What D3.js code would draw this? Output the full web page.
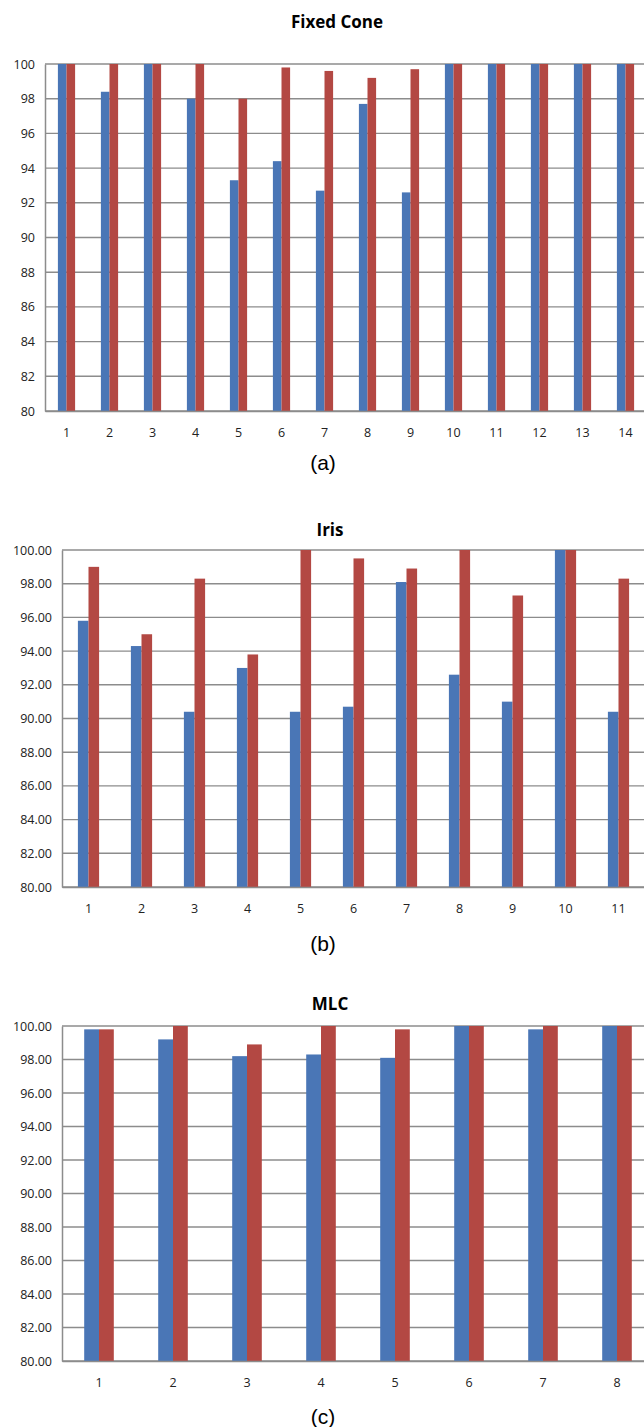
<!DOCTYPE html>
<html>
<head>
<meta charset="utf-8">
<script src="https://d3js.org/d3.v7.min.js"></script>
<style>
    body { margin: 0; background: #fff; }
    .tick text { font-family: "Open Sans", "Noto Sans", sans-serif; fill: #222; }
    .title { font-family: "Open Sans", "Noto Sans", sans-serif; font-weight: bold; font-size: 17px; }
    .sublabel { font-family: "Liberation Sans", Arial, sans-serif; font-size: 21px; }
</style>
</head>
<body>
<div class="chart"></div>
<script>

// Data for the three panels

var coneCategories = ["1", "2", "3", "4", "5", "6", "7", "8", "9", "10", "11", "12", "13", "14"];
var coneBlue = [100, 98.4, 100, 98.0, 93.3, 94.4, 92.7, 97.7, 92.6, 100, 100, 100, 100, 100];
var coneRed = [100, 100, 100, 100, 98.0, 99.8, 99.6, 99.2, 99.7, 100, 100, 100, 100, 100];

var irisCategories = ["1", "2", "3", "4", "5", "6", "7", "8", "9", "10", "11"];
var irisBlue = [95.8, 94.3, 90.4, 93.0, 90.4, 90.7, 98.1, 92.6, 91.0, 100, 90.4];
var irisRed = [99.0, 95.0, 98.3, 93.8, 100, 99.5, 98.9, 100, 97.3, 100, 98.3];

var mlcCategories = ["1", "2", "3", "4", "5", "6", "7", "8"];
var mlcBlue = [99.8, 99.2, 98.2, 98.3, 98.1, 100, 99.8, 100];
var mlcRed = [99.8, 100, 98.9, 100, 99.8, 100, 100, 100];

var yTicks = [80, 82, 84, 86, 88, 90, 92, 94, 96, 98, 100];

var svgWidth = 644;
var svgHeight = 1427;

var svg = d3.select(".chart")
    .append("svg")
    .attr("width", svgWidth)
    .attr("height", svgHeight);

// Draw one panel
function drawPanel(opts, categories, blue, red) {

    var chart = svg.append("g");

    var xScale = d3.scaleBand()
        .domain(categories)
        .range([opts.left, opts.left + opts.band * categories.length]);

    var yScale = d3.scaleLinear()
        .domain([80, 100])
        .range([opts.bottom, opts.top]);

    var barW = xScale.bandwidth() * 0.2;

    // gridlines
    chart.append("g")
        .selectAll("line")
        .data(yTicks)
        .enter()
        .append("line")
        .attr("x1", opts.left)
        .attr("x2", svgWidth)
        .attr("y1", function(d) { return yScale(d); })
        .attr("y2", function(d) { return yScale(d); })
        .attr("stroke", "#8c8c8c")
        .attr("stroke-width", 1.4);

    // bars
    chart.append("g")
        .selectAll("rect")
        .data(blue)
        .enter()
        .append("rect")
        .attr("x", function(d, i) { return xScale(categories[i]) + xScale.bandwidth() / 2 - barW; })
        .attr("y", function(d) { return yScale(d); })
        .attr("width", barW)
        .attr("height", function(d) { return yScale(80) - yScale(d); })
        .attr("fill", "#4a76b6");

    chart.append("g")
        .selectAll("rect")
        .data(red)
        .enter()
        .append("rect")
        .attr("x", function(d, i) { return xScale(categories[i]) + xScale.bandwidth() / 2; })
        .attr("y", function(d) { return yScale(d); })
        .attr("width", barW)
        .attr("height", function(d) { return yScale(80) - yScale(d); })
        .attr("fill", "#b34843");

    // axes
    var leftAxis = d3.axisLeft(yScale)
        .tickValues(yTicks)
        .tickSize(0)
        .tickPadding(opts.yPad)
        .tickFormat(opts.fmt);

    var bottomAxis = d3.axisBottom(xScale)
        .tickSize(0)
        .tickPadding(17);

    var yAxis = chart.append("g")
        .attr("transform", "translate(" + opts.left + ",0)")
        .call(leftAxis);

    var xAxis = chart.append("g")
        .attr("transform", "translate(0," + opts.bottom + ")")
        .call(bottomAxis);

    yAxis.selectAll(".tick text").attr("font-size", "12.5px");
    xAxis.selectAll(".tick text").attr("font-size", "12.5px");
    yAxis.select(".domain").attr("stroke", "#8c8c8c").attr("stroke-width", 1.5);
    xAxis.select(".domain").attr("stroke", "#8c8c8c").attr("stroke-width", 1.5);

    // title and panel label
    chart.append("text")
        .attr("class", "title")
        .attr("x", opts.titleX)
        .attr("y", opts.titleY)
        .attr("text-anchor", "middle")
        .text(opts.title);

    chart.append("text")
        .attr("class", "sublabel")
        .attr("x", 323)
        .attr("y", opts.subY)
        .attr("text-anchor", "middle")
        .text(opts.sub);
}

drawPanel({ left: 45, band: 43, top: 64, bottom: 411, yPad: 10, fmt: d3.format("d"),
    title: "Fixed Cone", titleX: 337, titleY: 28, sub: "(a)", subY: 470 },
    coneCategories, coneBlue, coneRed);

drawPanel({ left: 62, band: 53, top: 550, bottom: 887, yPad: 10, fmt: d3.format(".2f"),
    title: "Iris", titleX: 330, titleY: 536, sub: "(b)", subY: 951 },
    irisCategories, irisBlue, irisRed);

drawPanel({ left: 62, band: 74, top: 1026, bottom: 1361, yPad: 10, fmt: d3.format(".2f"),
    title: "MLC", titleX: 330, titleY: 1010, sub: "(c)", subY: 1424 },
    mlcCategories, mlcBlue, mlcRed);

</script>
</body>
</html>
